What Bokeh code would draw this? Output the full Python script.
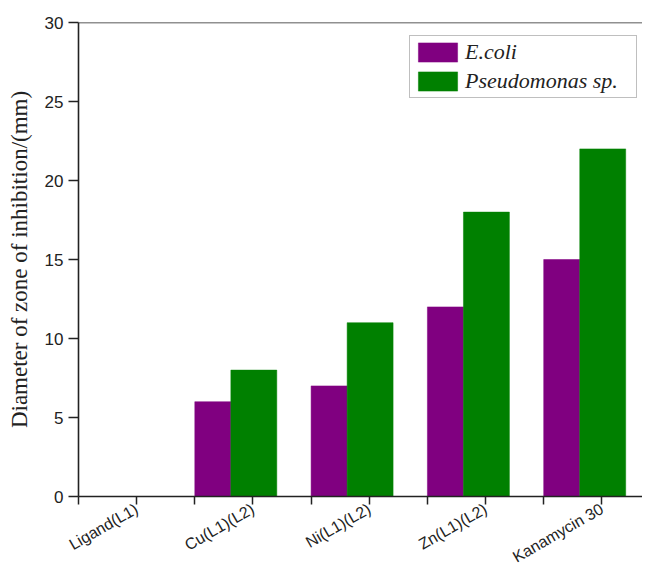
import numpy as np
from bokeh.plotting import figure
from bokeh.models import (FixedTicker, Span, Legend, LegendItem, Range1d, ColumnDataSource)
from bokeh.embed import file_html
from bokeh.resources import INLINE

categories = ["Ligand(L1)", "Cu(L1)(L2)", "Ni(L1)(L2)", "Zn(L1)(L2)", "Kanamycin 30"]
ecoli = [0, 6, 7, 12, 15]
pseudomonas = [0, 8, 11, 18, 22]
series_names = ["E.coli", "Pseudomonas sp."]
y_ticks = [0, 5, 10, 15, 20, 25, 30]

PURPLE = "#800080"
GREEN = "#008000"
INK = "#222222"

idx = np.arange(1, len(categories) + 1)

W, H = 642, 576
LEFT, TOP, BOTTOM = 78, 22, 80
Y_MAX = 30

p = figure(width=W, height=H, output_backend="svg", toolbar_location=None,
           x_range=Range1d(0.5, 0.5 + (W - LEFT) / 116.3), y_range=Range1d(0, Y_MAX),
           min_border_left=LEFT, min_border_right=0, min_border_top=TOP, min_border_bottom=BOTTOM)
p.outline_line_color = None
p.grid.visible = False
p.background_fill_color = "white"
p.border_fill_color = "white"

# bar layout: purple narrow bar starting at group's left edge, green wider bar after it
w1 = 0.31
w2 = 0.395
src1 = ColumnDataSource(dict(left=idx - 0.5, right=idx - 0.5 + w1, top=ecoli))
src2 = ColumnDataSource(dict(left=idx - 0.5 + w1, right=idx - 0.5 + w1 + w2, top=pseudomonas))
r1 = p.quad(left="left", right="right", bottom=0, top="top", source=src1,
            fill_color=PURPLE, line_color=PURPLE, line_width=0.5)
r2 = p.quad(left="left", right="right", bottom=0, top="top", source=src2,
            fill_color=GREEN, line_color=GREEN, line_width=0.5)

# top frame line
p.add_layout(Span(location=Y_MAX, dimension="width", line_color=INK, line_width=1.6))

# x axis
xa = p.xaxis[0]
xa.ticker = FixedTicker(ticks=list(idx), minor_ticks=list(idx - 0.5))
xa.major_label_overrides = {int(i): c for i, c in zip(idx, categories)}
xa.major_label_orientation = np.pi / 6
xa.major_label_text_font = "Liberation Sans"
xa.major_label_text_font_size = "16px"
xa.major_label_text_color = INK
xa.major_label_standoff = 3
xa.major_tick_in = 0
xa.major_tick_out = 8
xa.minor_tick_in = 0
xa.minor_tick_out = 8
xa.axis_line_width = 1.6
xa.axis_line_color = INK
xa.major_tick_line_color = INK
xa.minor_tick_line_color = INK
xa.major_tick_line_width = 1.5
xa.minor_tick_line_width = 1.5

# y axis
ya = p.yaxis[0]
ya.ticker = FixedTicker(ticks=y_ticks, minor_ticks=[])
ya.major_label_text_font = "Liberation Sans"
ya.major_label_text_font_size = "17px"
ya.major_label_text_color = INK
ya.major_label_standoff = 5
ya.major_tick_in = 0
ya.major_tick_out = 10
ya.minor_tick_line_color = None
ya.axis_line_width = 1.6
ya.axis_line_color = INK
ya.major_tick_line_color = INK
ya.major_tick_line_width = 1.5
ya.axis_label = "Diameter of zone of inhibition/(mm)"
ya.axis_label_text_font = "Liberation Serif"
ya.axis_label_text_font_style = "normal"
ya.axis_label_text_font_size = "23px"
ya.axis_label_text_color = INK
ya.axis_label_standoff = 10

legend = Legend(items=[LegendItem(label=series_names[0], renderers=[r1]),
                       LegendItem(label=series_names[1], renderers=[r2])],
                location=(409 - LEFT, (H - BOTTOM) - 98))
legend.label_text_font = "Liberation Serif"
legend.label_text_font_style = "italic"
legend.label_text_font_size = "22px"
legend.label_text_color = INK
legend.glyph_width = 49
legend.glyph_height = 24
legend.padding = 3
legend.spacing = 3
legend.margin = 0
legend.label_standoff = 3
legend.label_width = 168
legend.label_height = 24
legend.border_line_color = "#808080"
legend.border_line_width = 1
legend.background_fill_color = "white"
legend.background_fill_alpha = 1
p.add_layout(legend)

open("out.html", "w").write(file_html(p, INLINE))
